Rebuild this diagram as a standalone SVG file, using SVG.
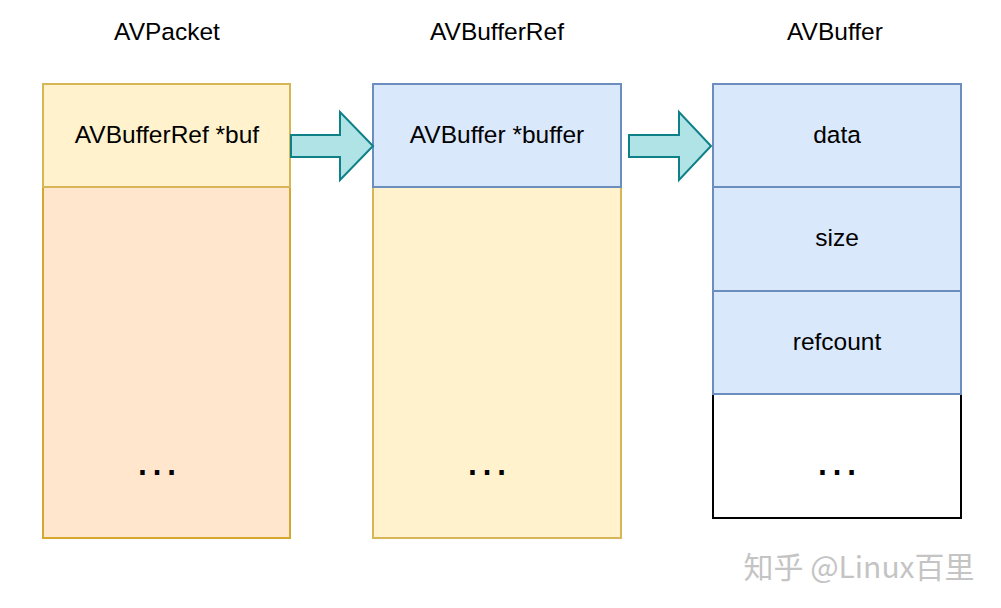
<svg xmlns="http://www.w3.org/2000/svg" width="1001" height="608" viewBox="0 0 1001 608">
<style>
text{font-family:"Liberation Sans",Arial,sans-serif;fill:#000;text-anchor:middle}
.t{font-size:24.5px}
.l{font-size:24.5px}
.d{font-size:46px}
.y{fill:#fff2cc;stroke:#d6b656;stroke-width:2}
.o{fill:#ffe6cc;stroke:#d4a82e;stroke-width:2}
.b{fill:#dae8fc;stroke:#6c8ebf;stroke-width:2}
.w{fill:#fff;stroke:#000;stroke-width:2}
.a{fill:#b0e3e6;stroke:#0e8088;stroke-width:2}
</style>
<rect width="1001" height="608" fill="#fff"/>
<g id="titles">
<text class="t" x="167" y="40">AVPacket</text>
<text class="t" x="497" y="40">AVBufferRef</text>
<text class="t" x="835" y="40">AVBuffer</text>
</g>
<g id="avpacket">
<rect class="o" x="43" y="187" width="247" height="351"/>
<rect class="y" x="43" y="84" width="247" height="103"/>
<text class="l" x="167" y="143">AVBufferRef *buf</text>
<text class="d" x="157" y="475">…</text>
</g>
<g id="avbufferref">
<rect class="y" x="373" y="187" width="248" height="351"/>
<rect class="b" x="373" y="84" width="248" height="103"/>
<text class="l" x="497" y="143">AVBuffer *buffer</text>
<text class="d" x="487" y="475">…</text>
</g>
<g id="avbuffer">
<rect class="w" x="713" y="394" width="248" height="124"/>
<rect class="b" x="713" y="84" width="248" height="103"/>
<rect class="b" x="713" y="187" width="248" height="104"/>
<rect class="b" x="713" y="291" width="248" height="103"/>
<text class="l" x="837" y="143">data</text>
<text class="l" x="837" y="246">size</text>
<text class="l" x="837" y="350">refcount</text>
<text class="d" x="837" y="475">…</text>
</g>
<g id="connectors">
<polygon class="a" points="291,135 340,135 340,112 373,146 340,180 340,157 291,157"/>
<polygon class="a" points="629,135 679,135 679,112 711,146 679,180 679,157 629,157"/>
</g>
<text x="859" y="578" style="font-family:'Noto Sans CJK SC',sans-serif;font-size:30px;fill:#c4c4c4">知乎 @Linux百里</text>
</svg>
